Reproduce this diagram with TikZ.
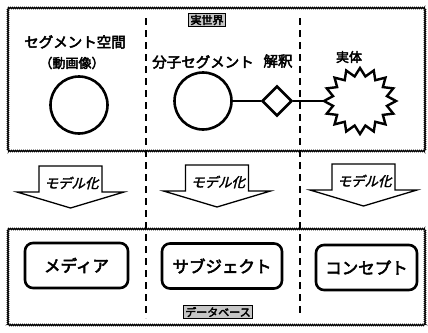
\documentclass[tikz,border=0pt]{standalone}
\usepackage{fontspec}
\newfontfamily\jp[AutoFakeBold=3.2]{Noto Sans CJK JP}
\newfontfamily\jpsl[FakeBold=2.2,FakeSlant=0.25]{Noto Sans CJK JP}
\usetikzlibrary{shapes.geometric,shapes.misc,decorations.pathmorphing}
\tikzset{
  frame/.style={line width=1pt, decorate, decoration={zigzag, segment length=2pt, amplitude=0.7pt}},
  dashline/.style={line width=1.5pt, dash pattern=on 7pt off 5pt},
  bigcirc/.style={circle, draw, line width=2.6pt, minimum size=57pt, inner sep=0pt},
  conn/.style={line width=2.6pt},
  starline/.style={line width=2.4pt, line join=miter, miter limit=10},
  txt/.style={font=\jp\bfseries\fontsize{14.5}{16}\selectfont, inner sep=0pt},
  smalltxt/.style={font=\jp\bfseries\fontsize{13}{15}\selectfont, inner sep=0pt},
  roundbox/.style={draw, line width=2.6pt, rounded corners=8pt, minimum height=45pt, inner sep=0pt, font=\jp\bfseries\fontsize{16.5}{18}\selectfont},
  tag/.style={draw, line width=1pt, fill=gray!45, inner xsep=2pt, inner ysep=1.5pt, font=\jp\bfseries\fontsize{11}{12}\selectfont},
  arrowlabel/.style={font=\jpsl\fontsize{13.5}{15}\selectfont, inner sep=0pt},
  modelarrow/.pic={
    \draw[line width=1.3pt, fill=white] (-31.5,0) -- (-31.5,26) -- (-53.5,26) -- (0,42) -- (53.5,26) -- (31.5,26) -- (31.5,0) -- cycle;
    \node[arrowlabel] (-lbl) at (1,17) {モデル化};
  }
}
\begin{document}
\begin{tikzpicture}[x=1pt,y=-1pt]
\useasboundingbox (0,0) rectangle (428,332);
% frames
\draw[frame] (8,8) rectangle (425,151);
\draw[frame] (8,229) rectangle (425,325);
% dashed separators
\draw[dashline] (146,18) -- (146,318);
\draw[dashline] (300,18) -- (300,315);
% tags
\node[tag] (world) at (207,20) {実世界};
\node[tag] (db) at (218,312) {データベース};
% top texts
\node[txt] (segspace) at (75,42) {セグメント空間};
\node[smalltxt] (video) at (72,63) {（動画像）};
\node[txt] (molseg) at (203,62) {分子セグメント};
\node[txt] (interp) at (278,61) {解釈};
\node[smalltxt] (entity) at (349,57) {実体};
% shapes
\node[bigcirc] (c1) at (79,105) {};
\node[bigcirc] (c2) at (203,101) {};
\node[diamond, draw, line width=2.6pt, minimum width=30pt, minimum height=30pt, inner sep=0pt] (dia) at (277,101) {};
\coordinate (starc) at (360,101);
\coordinate (starw) at (324,101);
\draw[starline, shift={(360,101)}] (90:36 and 33)
  \foreach \a in {0,22.5,...,337.5} { -- ({\a+101.25}:27.5 and 25) -- ({\a+112.5}:36 and 33) } -- cycle;
\draw[conn] (c2) -- (dia);
\draw[conn] (dia) -- (starw);
% arrows
\pic (a1) at (70.5,166) {modelarrow};
\pic (a2) at (217,165) {modelarrow};
\pic (a3) at (363.5,164) {modelarrow};
% bottom boxes
\node[roundbox, minimum width=103pt] (media) at (76.5,265.5) {メディア};
\node[roundbox, minimum width=120pt] (subject) at (222,266) {サブジェクト};
\node[roundbox, minimum width=101pt] (concept) at (366.5,267.5) {コンセプト};
\end{tikzpicture}
\end{document}
